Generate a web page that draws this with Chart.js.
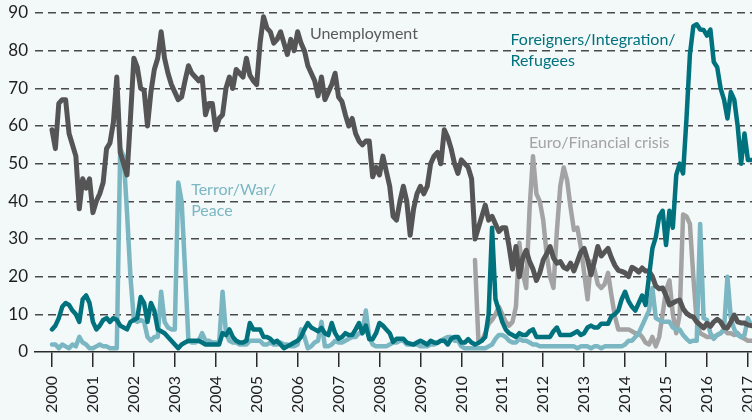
<!DOCTYPE html>
<html>
<head>
<meta charset="utf-8">
<script src="https://cdn.jsdelivr.net/npm/chart.js@4.4.0/dist/chart.umd.min.js"></script>
<style>
  html, body { margin: 0; padding: 0; background: #f3f8f9; }
  #wrap { width: 752px; height: 420px; }
</style>
</head>
<body>
<div id="wrap"><canvas id="myChart" width="752" height="420"></canvas></div>
<script>
// monthly shares in %, January 2000 to February 2017
const startYear = 2000;

const unemployment = [
  59, 54, 66, 67, 67, 58, 55, 52, 38, 46, 43.5, 46,
  37, 40, 42, 45, 54, 55.5, 61, 73, 53, 50, 47, 62,
  78, 75.6, 70, 69.5, 60, 69, 75, 78, 85, 78, 74, 71,
  69, 67, 67.7, 72, 76, 74, 73, 72, 73, 63, 66, 66,
  59, 62, 63, 70, 73, 70, 75, 74, 73, 78, 73.5, 72,
  71, 82, 89, 86, 85, 82, 83, 85, 82, 79, 83, 80,
  85, 82, 80, 76, 74, 72, 68, 73, 67, 69, 71, 74,
  67.7, 66.5, 63, 60, 62, 58, 56, 55, 56, 56, 46.5, 49,
  47, 52, 48, 44, 36, 35, 40, 44, 40, 31, 38, 42,
  44, 42, 44, 50, 52, 53, 50, 59, 57, 54, 50, 47.4,
  51, 50, 49, 46, 30, 33, 36, 39, 35, 36, 34, 32,
  33, 33, 28, 22, 28, 20, 25, 27, 24, 22, 19, 21,
  24.4, 26, 28, 25, 23.6, 24, 22.5, 22, 23.6, 21.5, 24, 26.5,
  27.5, 24.5, 20.5, 24, 28, 25.5, 26.5, 27.5, 25, 23, 21.7, 21.4,
  21, 20, 22.5, 22, 21.2, 22.3, 21.5, 21.5, 20, 17.5, 16.8, 17,
  15, 12.5, 13, 13.5, 13.8, 11.5, 10.3, 9.6, 9.3, 8, 7.2, 6.4,
  7.6, 6.8, 8, 8.7, 8, 6.5, 6.4, 8, 9.8, 8, 7.7, 7.7,
  7.2, 7
];

const foreigners = [
  6, 7, 9, 12, 13, 12.5, 11, 10, 8, 14, 15, 13,
  8, 6, 7, 8.5, 9, 8, 9, 8.5, 7, 6.5, 6, 8,
  8.5, 9, 14.6, 13, 8, 13, 11, 6, 5.5, 5, 4, 3,
  2, 1, 2, 2.5, 3, 3, 3, 3, 2.5, 2, 2, 2,
  2, 2, 5, 4.5, 6, 4, 3, 2.5, 2.5, 3, 7.7, 6,
  6, 6, 4, 4, 3.5, 2.5, 3, 2, 1, 1.5, 2, 2.5,
  3, 4, 6, 7.7, 6.5, 6, 5.5, 6.4, 5, 4.5, 7.7, 5,
  3.5, 4, 5, 4.5, 4.5, 6, 7.7, 5, 7, 3.4, 3.4, 5,
  7.7, 7, 6, 5, 2.7, 3.5, 3.5, 3.5, 2.5, 2.2, 2, 2.5,
  3, 2.5, 2, 3, 2.5, 2.4, 3, 3, 2, 3.5, 4, 4,
  2.5, 2.5, 3.4, 2.5, 2, 2.4, 3, 4, 10, 33, 14, 11,
  8, 6, 5, 4.5, 4, 5, 4.5, 4.5, 5.5, 6, 4, 4,
  4, 4, 4, 5.5, 6.5, 4.5, 4.5, 4.5, 4.5, 5, 5.5, 4.5,
  5, 6.5, 7, 6.5, 6.5, 7.5, 7.5, 7.5, 9.5, 10, 11, 14,
  16, 13.5, 12, 11, 13, 15, 12.5, 20, 27.5, 30.5, 36, 37.5,
  28.4, 37.5, 33, 47, 50, 47.4, 62, 79, 86.5, 87, 85.6, 85.5,
  84, 85.6, 77, 75.6, 70, 67, 62, 69, 67, 60, 50, 58,
  51, 51
];

const terror = [
  2, 2, 1, 2, 1.5, 1, 2, 1.5, 4, 2.5, 2, 1,
  1, 1.5, 2, 1.5, 1.5, 1, 1, 1, 54, 52, 37, 20,
  8.5, 8, 8.5, 8, 4, 3, 4, 4, 16, 8, 6.5, 6,
  6, 45, 40, 22, 3, 2.5, 2.5, 3, 5, 3, 3, 2.5,
  2.5, 2.5, 16, 5, 3, 2.5, 2.5, 2, 2, 2, 3, 3,
  3, 3, 2, 2, 2.5, 2, 2, 2.5, 2, 2, 1.5, 1.5,
  2, 6, 4, 1, 1.5, 2.5, 3, 8, 1.5, 1.5, 2, 3,
  2.5, 2.5, 3, 3.5, 4, 4, 5, 5, 11, 4, 2, 1.5,
  1.5, 1.5, 1.5, 2, 2.5, 2.5, 3, 3, 2, 2, 2, 2,
  1.5, 1.5, 1.5, 2, 2, 2.5, 3, 3.5, 4, 4, 3, 3,
  1.5, 1, 1, 1, 1, 1, 1, 1, 1.5, 2, 3.5, 4.5,
  4.5, 4, 3, 2.5, 2.5, 3.5, 3, 3, 2.5, 2, 2, 1.5,
  1.5, 1.5, 1.5, 1.5, 1.5, 1.5, 1.5, 1.5, 1.5, 1.5, 1, 1.5,
  1.5, 1.5, 1, 1.5, 1.5, 1, 1.5, 1.5, 1.5, 1.5, 1.5, 1.5,
  2, 3, 3, 4, 5, 7, 9, 11, 17, 9, 8.5, 8,
  8, 8, 6.5, 6, 6, 4.5, 3.5, 2.7, 3, 3, 34, 9,
  8.5, 5, 3.5, 4.5, 5, 6, 20, 9, 6, 4.5, 4, 4.5,
  9, 7
];

// euro crisis series begins in May 2010
const euroStart = 124;
const euro = [
  24.4, 3, 3, 5, 7.5, 8.5, 10, 12,
  10, 8, 7, 8, 12, 29, 21, 17, 38, 52, 42, 40,
  35, 26, 20, 17, 32, 44, 49, 45.6, 38.5, 32.4, 33, 28,
  21, 14, 24, 22, 18, 17, 18, 21, 15, 9.5, 6, 6,
  6, 6, 5.5, 5, 5, 4, 2.5, 2, 4, 1.5, 4, 10,
  16.4, 19, 10, 5, 10, 36.5, 36, 34, 20, 8, 5, 4.5,
  4, 4, 4, 4.5, 5, 6, 5, 5, 4.5, 5, 4, 3.5,
  3, 3
];

const yearTicks = [2000, 2001, 2002, 2003, 2004, 2005, 2006, 2007, 2008,
  2009, 2010, 2011, 2012, 2013, 2014, 2015, 2016, 2017];

const seriesLabels = [
  { lines: ["Unemployment"], x: 2006.3, y: 84.4, color: "#5a5a5a" },
  { lines: ["Foreigners/Integration/", "Refugees"], x: 2011.2, y: 82.8, color: "#00727e" },
  { lines: ["Euro/Financial crisis"], x: 2011.65, y: 55.4, color: "#a3a3a3" },
  { lines: ["Terror/War/", "Peace"], x: 2003.4, y: 43, color: "#7ab7c2" }
];

function toPoints(values, offset) {
  return values.map((v, i) => ({ x: startYear + (offset + i) / 12, y: v }));
}

const labelPlugin = {
  id: "seriesLabels",
  afterDatasetsDraw(chart) {
    const { ctx, scales } = chart;
    ctx.save();
    ctx.font = "16px Lato";
    ctx.textAlign = "left";
    ctx.textBaseline = "middle";
    seriesLabels.forEach((l) => {
      ctx.fillStyle = l.color;
      const px = scales.x.getPixelForValue(l.x);
      const py = scales.y.getPixelForValue(l.y);
      l.lines.forEach((t, j) => ctx.fillText(t, px, py + j * 21));
    });
    ctx.restore();
  },
};

Chart.defaults.font.family = "Lato";

var ctx = document.getElementById("myChart");
var myChart = new Chart(ctx, {
  type: "line",
  data: {
    datasets: [
      { label: "Foreigners/Integration/Refugees", data: toPoints(foreigners, 0), borderColor: "#00727e", borderWidth: 4.5 },
      { label: "Unemployment", data: toPoints(unemployment, 0), borderColor: "#555555", borderWidth: 5 },
      { label: "Terror/War/Peace", data: toPoints(terror, 0), borderColor: "#7ab7c2", borderWidth: 4.5 },
      { label: "Euro/Financial crisis", data: toPoints(euro, euroStart), borderColor: "#a3a3a3", borderWidth: 4.5 },
    ],
  },
  options: {
    responsive: false,
    animation: false,
    layout: { padding: { top: 13, right: 0, bottom: 0, left: 0 } },
    plugins: { legend: { display: false }, tooltip: { enabled: false } },
    elements: {
      point: { radius: 0 },
      line: { tension: 0, borderJoinStyle: "round", borderCapStyle: "round", fill: false },
    },
    scales: {
      x: {
        type: "linear",
        min: 1999.585,
        max: 2017.1,
        afterBuildTicks: (s) => { s.ticks = yearTicks.map((v) => ({ value: v })); },
        afterFit: (s) => { s.height = 68; s.paddingLeft = 0; s.paddingRight = 0; },
        grid: { drawOnChartArea: false, drawTicks: true, tickLength: 15, color: "#2a2a2a", lineWidth: 1.5 },
        border: { display: true, color: "#2a2a2a", width: 1.5 },
        ticks: {
          minRotation: 90, maxRotation: 90, autoSkip: false, padding: 9,
          color: "#1e1e1e", font: { size: 16 },
          callback: (v) => String(v),
        },
      },
      y: {
        min: 0,
        max: 90,
        afterFit: (s) => { s.width = 35; s.paddingTop = 0; s.paddingBottom = 0; },
        ticks: { stepSize: 10, padding: 7, color: "#1e1e1e", font: { size: 17 } },
        grid: {
          drawTicks: false,
          tickLength: 0,
          lineWidth: 1.4,
          color: (c) => (c.tick && c.tick.value === 0 ? "rgba(0,0,0,0)" : "#4a4a4a"),
        },
        border: { display: false, dash: [8, 5] },
      },
    },
  },
  plugins: [labelPlugin],
});
</script>
</body>
</html>
